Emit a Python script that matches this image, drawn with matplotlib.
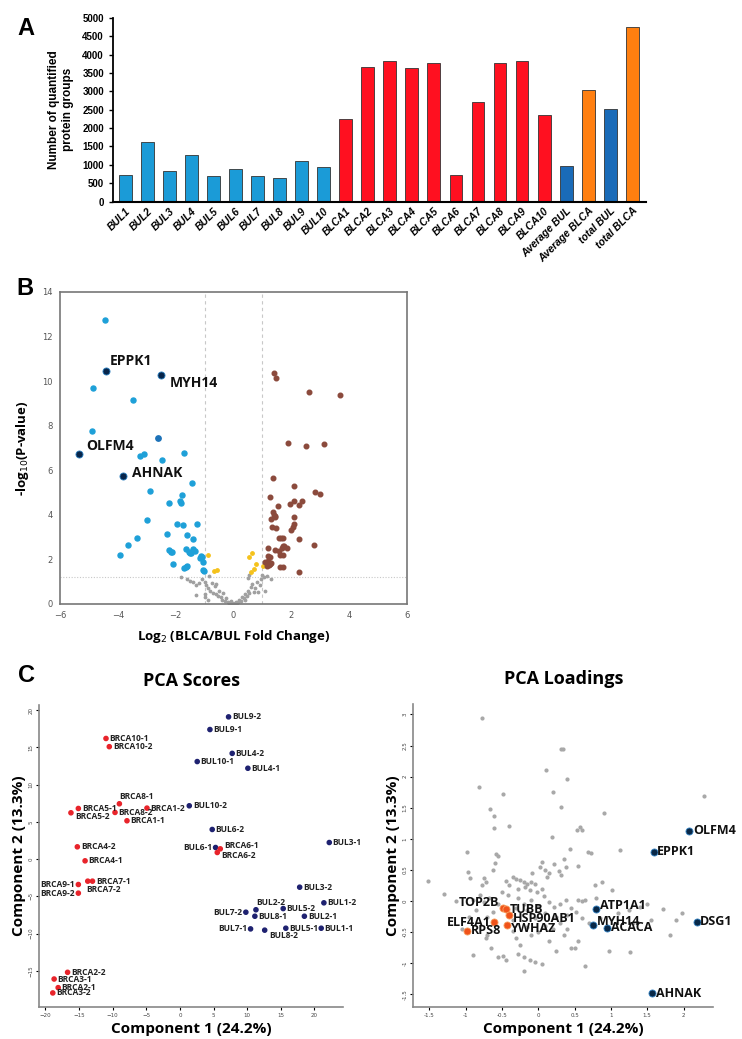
import matplotlib
matplotlib.use("Agg")
import matplotlib.pyplot as plt
import numpy as np

# ---- panel A: protein groups per sample
samples = ["BUL1", "BUL2", "BUL3", "BUL4", "BUL5", "BUL6", "BUL7", "BUL8", "BUL9", "BUL10",
           "BLCA1", "BLCA2", "BLCA3", "BLCA4", "BLCA5", "BLCA6", "BLCA7", "BLCA8", "BLCA9", "BLCA10",
           "Average BUL", "Average BLCA", "total BUL", "total BLCA"]
counts = [725, 1634, 843, 1280, 698, 889, 698, 635, 1100, 952,
          2253, 3671, 3827, 3625, 3762, 717, 2725, 3762, 3835, 2362,
          963, 3052, 2534, 4754]
bar_colors = ["#1b9bd7"] * 10 + ["#ff1020"] * 10 + ["#1a6bb8", "#ff7f10", "#1a6bb8", "#ff7f10"]

# ---- panel B: volcano plot
blue_x = [-4.44, -4.86, -3.46, -4.89, -3.22, -3.08, -2.47, -1.72,
          -1.45, -2.90, -1.77, -2.24, -1.85, -1.83, -2.98, -1.96, -1.76, -1.27, -2.31, -1.62,
          -3.35, -1.39, -3.64, -1.65, -1.39, -1.33, -2.22, -2.14, -2.18, -1.55, -1.50, -1.46,
          -3.92, -1.12, -1.08, -1.15, -1.04, -2.08, -1.60, -1.65, -1.70, -1.04, -1.02]
blue_y = [12.74, 9.68, 9.17, 7.75, 6.63, 6.71, 6.46, 6.79,
          5.41, 5.08, 4.89, 4.52, 4.63, 4.52, 3.75, 3.59, 3.53, 3.60, 3.16, 3.08,
          2.96, 2.90, 2.65, 2.45, 2.45, 2.39, 2.40, 2.35, 2.33, 2.32, 2.28, 2.30,
          2.18, 2.15, 2.09, 2.05, 1.88, 1.79, 1.70, 1.65, 1.60, 1.52, 1.47]
mid_blue_x = [-2.62]
mid_blue_y = [7.43]
brown_x = [1.41, 1.47, 2.60, 3.69, 1.90, 2.51, 3.14, 1.37, 2.09, 1.25, 2.81, 2.99, 1.53,
           2.09, 1.95, 2.25, 2.37, 1.37, 1.40, 1.42, 1.30, 1.45, 2.10, 1.34, 1.47, 2.10,
           2.05, 1.98, 1.58, 1.65, 1.72, 2.25, 1.18, 1.45, 1.58, 1.70, 1.67, 1.76, 2.77,
           1.60, 1.70, 1.26, 1.20, 1.10, 1.18, 1.25, 1.15, 1.30, 1.22, 1.62, 1.70, 2.27, 1.85]
brown_y = [10.36, 10.15, 9.53, 9.36, 7.21, 7.09, 7.18, 5.67, 5.29, 4.81, 5.04, 4.95, 4.41,
           4.62, 4.47, 4.44, 4.62, 4.14, 4.00, 3.92, 3.80, 3.95, 3.89, 3.47, 3.42, 3.57,
           3.47, 3.32, 2.95, 2.95, 2.95, 2.90, 2.51, 2.43, 2.37, 2.62, 2.51, 2.58, 2.66,
           2.20, 2.20, 2.10, 2.15, 1.90, 1.95, 1.80, 1.72, 1.85, 1.75, 1.65, 1.65, 1.44, 2.50]
yellow_x = [-0.87, -0.58, -0.66, 0.54, 0.65, 0.78, 0.70, 0.61, 1.03]
yellow_y = [2.20, 1.52, 1.47, 2.10, 2.29, 1.79, 1.57, 1.45, 1.72]
gray_x = [-1.8, -1.6, -1.5, -1.4, -1.3, -1.2, -1.1, -1.0, -0.95, -0.9, -0.85, -0.8, -0.75,
          -0.7, -0.65, -0.6, -0.55, -0.5, -0.45, -0.4, -0.35, -0.3, -0.25, -0.2, -0.15, -0.1,
          -0.05, 0.0, 0.05, 0.1, 0.15, 0.2, 0.25, 0.3, 0.35, 0.4, 0.45, 0.5, 0.55, 0.6, 0.65,
          0.7, 0.75, 0.8, 0.85, 0.9, 0.95, 1.0, 1.05, 1.1, 1.15, 1.3, 0.5, 0.55, -0.9, -1.0,
          -0.6, -1.3, -1.0, 0.12, -0.12, 0.38]
gray_y = [1.22, 1.10, 1.05, 1.00, 0.85, 0.95, 1.10, 1.00, 0.85, 0.70, 1.25, 0.60, 0.95,
          0.50, 0.80, 0.45, 0.35, 0.60, 0.30, 0.20, 0.50, 0.15, 0.25, 0.10, 0.05, 0.12,
          0.03, 0.02, 0.05, 0.10, 0.08, 0.20, 0.15, 0.30, 0.25, 0.45, 0.35, 0.60, 0.50, 0.75,
          0.90, 0.55, 0.70, 1.00, 0.55, 0.85, 1.10, 1.30, 1.20, 0.60, 1.25, 1.10, 1.15, 1.30,
          0.20, 0.45, 0.90, 0.40, 0.30, 0.04, 0.06, 0.18]
volcano_genes = ["EPPK1", "MYH14", "OLFM4", "AHNAK"]
volcano_gx = [-4.42, -2.51, -5.33, -3.83]
volcano_gy = [10.44, 10.29, 6.73, 5.74]
volcano_offsets = [(3, 7.5), (6, -6), (5, 6), (6.5, 2)]

# ---- panel C: PCA scores
score_names = ["BUL9-2", "BUL9-1", "BRCA10-1", "BRCA10-2", "BUL4-2", "BUL10-1", "BUL4-1",
               "BRCA8-1", "BRCA5-1", "BRCA1-2", "BUL10-2", "BRCA5-2", "BRCA8-2", "BRCA1-1",
               "BUL6-2", "BUL3-1", "BRCA4-2", "BUL6-1", "BRCA6-1", "BRCA6-2", "BRCA4-1",
               "BRCA7-1", "BRCA7-2", "BRCA9-1", "BRCA9-2", "BUL3-2", "BUL1-2", "BUL2-2",
               "BUL5-2", "BUL7-2", "BUL8-1", "BUL2-1", "BUL7-1", "BUL8-2", "BUL5-1", "BUL1-1",
               "BRCA2-2", "BRCA3-1", "BRCA2-1", "BRCA3-2"]
score_x = [7.23, 4.46, -10.99, -10.5, 7.77, 2.57, 10.1,
           -9.0, -15.1, -4.9, 1.39, -16.2, -9.65, -7.87,
           4.8, 22.2, -15.25, 5.3, 6.0, 5.55, -14.1,
           -13.0, -13.7, -15.1, -15.1, 17.8, 21.4, 11.3,
           15.35, 9.8, 11.14, 18.5, 10.5, 12.6, 15.74, 21.0,
           -16.7, -18.7, -18.1, -18.9]
score_y = [19.1, 17.4, 16.2, 15.1, 14.2, 13.1, 12.2,
           7.43, 6.8, 6.85, 7.16, 6.22, 6.27, 5.15,
           3.98, 2.23, 1.65, 1.56, 1.38, 0.89, -0.23,
           -2.96, -2.96, -3.41, -4.57, -3.77, -5.87, -6.8,
           -6.64, -7.13, -7.67, -7.67, -9.37, -9.54, -9.28, -9.28,
           -15.2, -16.1, -17.26, -17.97]
score_side = ["r", "r", "r", "r", "r", "r", "r",
              "u", "r", "r", "r", "rd", "r", "r",
              "r", "r", "r", "l", "ru", "rd", "r",
              "r", "d", "l", "l", "r", "r", "u",
              "r", "l", "r", "r", "l", "dr", "r", "r",
              "r", "r", "r", "r"]

# ---- panel C: PCA loadings
load_gray_x = [-0.77, 0.32, 0.34, 0.11, 0.39, -0.82, 0.21, -0.49, 2.28, 0.31, -0.66, -0.61, 0.91,
               -0.61, -0.40, 0.58, 0.60, 0.53, 0.19, 0.44, 0.69, 1.13, -0.98, -0.56, -0.58, -0.59, -0.62,
               -0.96, -0.94, -1.52, -0.75, -0.77, -0.72,
               -0.35, -0.30, -0.25, -0.20, -0.15, -0.10, -0.05, -0.18, -0.28, -0.12, -0.02, 0.05, -0.40, -0.45,
               0.02, 0.05, 0.10, 0.15, 0.22, 0.28, 0.35, 0.38, 0.55, 0.88, 1.02, 0.32, -0.08, 0.12,
               -1.30, -1.13, -0.90, -0.80, -0.75, -0.68, -0.85, -0.70, -0.62, -0.55,
               -0.28, -0.20, -0.10, 0.00, 0.08, 0.15, 0.22, 0.30, 0.38, 0.45, 0.52, 0.55, 0.60, 0.65,
               0.40, 0.25, 0.10, -0.05, -0.15, -0.30, -0.35,
               1.10, 1.25, 1.40, 1.55, 1.72, 1.90, 1.98, 1.82, 1.26, 0.97, 0.70, 0.60,
               -0.70, -0.65, -0.55, -0.48, -0.90, -0.72, -0.30, -0.28, -0.20, -0.12, -0.05, 0.05,
               0.45, 0.50, 0.55, 0.65, -0.20, -0.45, -0.25, -0.10, 0.00, 0.10, 0.20, 0.30, 0.15,
               0.35, -0.15, -0.35, 0.40, 0.25,
               0.72, 0.78, 1.50, 1.30, 0.85, 0.80, -1.05, -0.95, -0.50, -0.42]
load_gray_y = [2.95, 2.45, 2.44, 2.11, 1.97, 1.84, 1.76, 1.72, 1.69, 1.52, 1.48, 1.37, 1.42,
               1.18, 1.21, 1.19, 1.14, 1.15, 1.03, 0.83, 0.79, 0.82, 0.79, 0.72, 0.76, 0.61, 0.50,
               0.47, 0.37, 0.32, 0.37, 0.26, 0.30,
               0.38, 0.35, 0.33, 0.30, 0.28, 0.30, 0.27, 0.22, 0.20, 0.18, 0.15, 0.20, 0.25, 0.32,
               0.55, 0.62, 0.50, 0.45, 0.60, 0.48, 0.68, 0.55, 0.57, 0.30, 0.18, 0.42, 0.45, 0.38,
               0.12, 0.00, 0.02, 0.10, -0.02, 0.05, -0.15, -0.25, -0.18, -0.05,
               0.05, -0.05, 0.02, -0.08, 0.08, -0.02, -0.10, -0.05, 0.02, -0.12, -0.18, 0.02, 0.00, 0.01,
               -0.22, -0.25, -0.20, -0.28, -0.15, -0.12, -0.30,
               -0.20, -0.15, -0.10, -0.30, -0.13, -0.30, -0.20, -0.55, -0.82, -0.80, -0.35, -0.28,
               -0.55, -0.75, -0.90, -0.88, -0.87, -0.60, -0.60, -0.85, -0.90, -0.95, -0.98, -1.02,
               -0.75, -0.75, -0.65, -1.05, -1.12, -0.95, -0.70, -0.55, -0.50, -0.40, -0.45, -0.35, -0.65,
               -0.55, -0.42, -0.48, -0.45, -0.80,
               0.78, 0.25, -0.05, -0.35, -0.28, 0.05, -0.45, -0.25, 0.15, 0.10]
load_blue_names = ["OLFM4", "EPPK1", "ATP1A1", "DSG1", "MYH14", "ACACA", "AHNAK"]
load_blue_x = [2.08, 1.59, 0.79, 2.18, 0.75, 0.95, 1.57]
load_blue_y = [1.13, 0.79, -0.13, -0.33, -0.39, -0.43, -1.48]
load_orange_names = ["TOP2B", "TUBB", "HSP90AB1", "ELF4A1", "YWHAZ", "RPS8"]
load_orange_x = [-0.48, -0.44, -0.40, -0.61, -0.43, -0.98]
load_orange_y = [-0.11, -0.13, -0.23, -0.34, -0.39, -0.48]
load_blue_side = ["r", "r", "ru", "r", "ru", "r", "r"]
load_orange_side = ["lu", "r", "rd", "l", "rd", "r"]

fig = plt.figure(figsize=(7.42, 10.39), dpi=100)

# ================= A
axA = fig.add_axes([0.1523, 0.806, 0.7183, 0.1767])
xpos = np.arange(len(samples))
axA.bar(xpos, counts, width=0.58, color=bar_colors, edgecolor="#333333", linewidth=0.6)
axA.set_xlim(-0.55, 23.62)
axA.set_ylim(0, 5000)
axA.set_yticks(np.arange(0, 5001, 500))
axA.set_xticks(xpos)
axA.set_xticklabels(samples, rotation=45, ha="right", rotation_mode="anchor",
                    fontsize=7.5, fontweight="bold", fontstyle="italic", family="Liberation Sans")
for lab in axA.get_yticklabels():
    lab.set_fontsize(7)
    lab.set_fontweight("bold")
    lab.set_family("Liberation Sans")
axA.tick_params(axis="x", length=0, pad=3)
axA.tick_params(axis="y", length=3, width=1)
axA.spines["top"].set_visible(False)
axA.spines["right"].set_visible(False)
axA.spines["left"].set_linewidth(1.3)
axA.spines["bottom"].set_linewidth(1.5)
axA.set_ylabel("Number of quantified\nprotein groups", fontsize=8.5, fontweight="bold",
               family="Liberation Sans", labelpad=6)
fig.text(0.024, 0.973, "A", fontsize=17, fontweight="bold", family="Liberation Sans", va="center")

# ================= B
axB = fig.add_axes([0.0809, 0.4187, 0.4677, 0.3003])
axB.axvline(-1, color="#c8c8c8", lw=0.8, ls=(0, (3, 3)), zorder=0)
axB.axvline(1, color="#c8c8c8", lw=0.8, ls=(0, (3, 3)), zorder=0)
axB.axhline(1.2, color="#c8c8c8", lw=0.8, ls=(0, (1, 1.5)), zorder=0)
axB.scatter(gray_x, gray_y, s=3, color="#a0a0a0", zorder=2)
axB.scatter(yellow_x, yellow_y, s=6, color="#f5c21b", zorder=3)
axB.scatter(blue_x, blue_y, s=13, color="#1ea0d8", zorder=3)
axB.scatter(mid_blue_x, mid_blue_y, s=15, color="#1c72b8", zorder=3)
axB.scatter(brown_x, brown_y, s=11, color="#8b4a3c", zorder=3)
axB.scatter(volcano_gx, volcano_gy, s=26, color="#07254a", edgecolor="#2a7fc0", linewidth=0.6, zorder=4)
for name, gx, gy, off in zip(volcano_genes, volcano_gx, volcano_gy, volcano_offsets):
    axB.annotate(name, (gx, gy), xytext=off, textcoords="offset points", ha="left", va="center",
                 fontsize=10, fontweight="bold", family="Open Sans", color="#111111")
axB.set_xlim(-6, 6)
axB.set_ylim(0, 14)
axB.set_xticks(np.arange(-6, 7, 2))
axB.set_yticks(np.arange(0, 15, 2))
axB.tick_params(length=0, labelsize=6, labelcolor="#555555", pad=5)
for sp in axB.spines.values():
    sp.set_color("#777777")
    sp.set_linewidth(1.2)
axB.set_xlabel("Log$_2$ (BLCA/BUL Fold Change)", fontsize=9.5, fontweight="bold", family="Open Sans", labelpad=6)
axB.set_ylabel("-log$_{10}$(P-value)", fontsize=9.5, fontweight="bold", family="Open Sans", labelpad=8)
fig.text(0.022, 0.722, "B", fontsize=17, fontweight="bold", family="Liberation Sans", va="center")

# ================= C scores
axS = fig.add_axes([0.053, 0.0305, 0.4089, 0.291])
red_mask = [n.startswith("BRCA") for n in score_names]
sc_colors = ["#e8232a" if m else "#1e2170" for m in red_mask]
axS.scatter(score_x, score_y, s=9, color=sc_colors, zorder=3)
side_map = {"r": ((2.5, 0), "left", "center"), "l": ((-2.5, 0), "right", "center"),
            "u": ((0, 5), "left", "center"), "d": ((-1, -6), "left", "center"),
            "dr": ((3, -4), "left", "center"), "ru": ((3, 2.5), "left", "center"),
            "rd": ((3, -2.5), "left", "center"), "lu": ((-3, 4), "right", "center")}
for name, sx, sy, side in zip(score_names, score_x, score_y, score_side):
    off, ha, va = side_map[side]
    axS.annotate(name, (sx, sy), xytext=off, textcoords="offset points", ha=ha, va=va,
                 fontsize=6, fontweight="bold", family="Open Sans", color="#222222")
axS.set_xlim(-20.9, 24.2)
axS.set_ylim(-19.9, 20.7)
axS.set_xticks(np.arange(-20, 21, 5))
axS.set_yticks(np.arange(-15, 21, 5))
axS.tick_params(length=2, labelsize=4, labelcolor="#444444", pad=2)
for lab in axS.get_yticklabels():
    lab.set_rotation(90)
    lab.set_va("center")
axS.spines["top"].set_visible(False)
axS.spines["right"].set_visible(False)
axS.spines["left"].set_color("#888888")
axS.spines["bottom"].set_color("#888888")
axS.spines["left"].set_linewidth(1.2)
axS.spines["bottom"].set_linewidth(1.2)
axS.set_title("PCA Scores", fontsize=13, fontweight="bold", family="Open Sans", pad=14)
axS.set_xlabel("Component 1 (24.2%)", fontsize=11, fontweight="bold", family="Open Sans", labelpad=3)
axS.set_ylabel("Component 2 (13.3%)", fontsize=11, fontweight="bold", family="Open Sans", labelpad=2)
fig.text(0.024, 0.35, "C", fontsize=17, fontweight="bold", family="Liberation Sans", va="center")

# ================= C loadings
axL = fig.add_axes([0.557, 0.0305, 0.4043, 0.292])
axL.scatter(load_gray_x, load_gray_y, s=4, color="#a8a8a8", zorder=2)
axL.scatter(load_orange_x, load_orange_y, s=26, color="#f0521a", edgecolor="#f7a060", linewidth=0.6, zorder=4)
axL.scatter(load_blue_x, load_blue_y, s=26, color="#082848", edgecolor="#3a88c8", linewidth=0.6, zorder=4)
for names, xs, ys, sides in [(load_orange_names, load_orange_x, load_orange_y, load_orange_side),
                             (load_blue_names, load_blue_x, load_blue_y, load_blue_side)]:
    for name, lx, ly, side in zip(names, xs, ys, sides):
        off, ha, va = side_map[side]
        axL.annotate(name, (lx, ly), xytext=off, textcoords="offset points", ha=ha, va=va,
                     fontsize=9, fontweight="bold", family="Open Sans", color="#111111", zorder=5)
axL.set_xlim(-1.72, 2.41)
axL.set_ylim(-1.71, 3.17)
axL.set_xticks(np.arange(-1.5, 2.01, 0.5))
axL.set_yticks(np.arange(-1.5, 3.01, 0.5))
axL.set_xticklabels(["-1.5", "-1", "-0.5", "0", "0.5", "1", "1.5", "2"])
axL.set_yticklabels(["-1.5", "-1", "-0.5", "0", "0.5", "1", "1.5", "2", "2.5", "3"])
axL.tick_params(length=2, labelsize=4, labelcolor="#444444", pad=2)
for lab in axL.get_yticklabels():
    lab.set_rotation(90)
    lab.set_va("center")
axL.spines["top"].set_visible(False)
axL.spines["right"].set_visible(False)
axL.spines["left"].set_color("#888888")
axL.spines["bottom"].set_color("#888888")
axL.spines["left"].set_linewidth(1.2)
axL.spines["bottom"].set_linewidth(1.2)
axL.set_title("PCA Loadings", fontsize=13, fontweight="bold", family="Open Sans", pad=14)
axL.set_xlabel("Component 1 (24.2%)", fontsize=11, fontweight="bold", family="Open Sans", labelpad=3)
axL.set_ylabel("Component 2 (13.3%)", fontsize=11, fontweight="bold", family="Open Sans", labelpad=2)

fig.savefig("out.png", dpi=100)
